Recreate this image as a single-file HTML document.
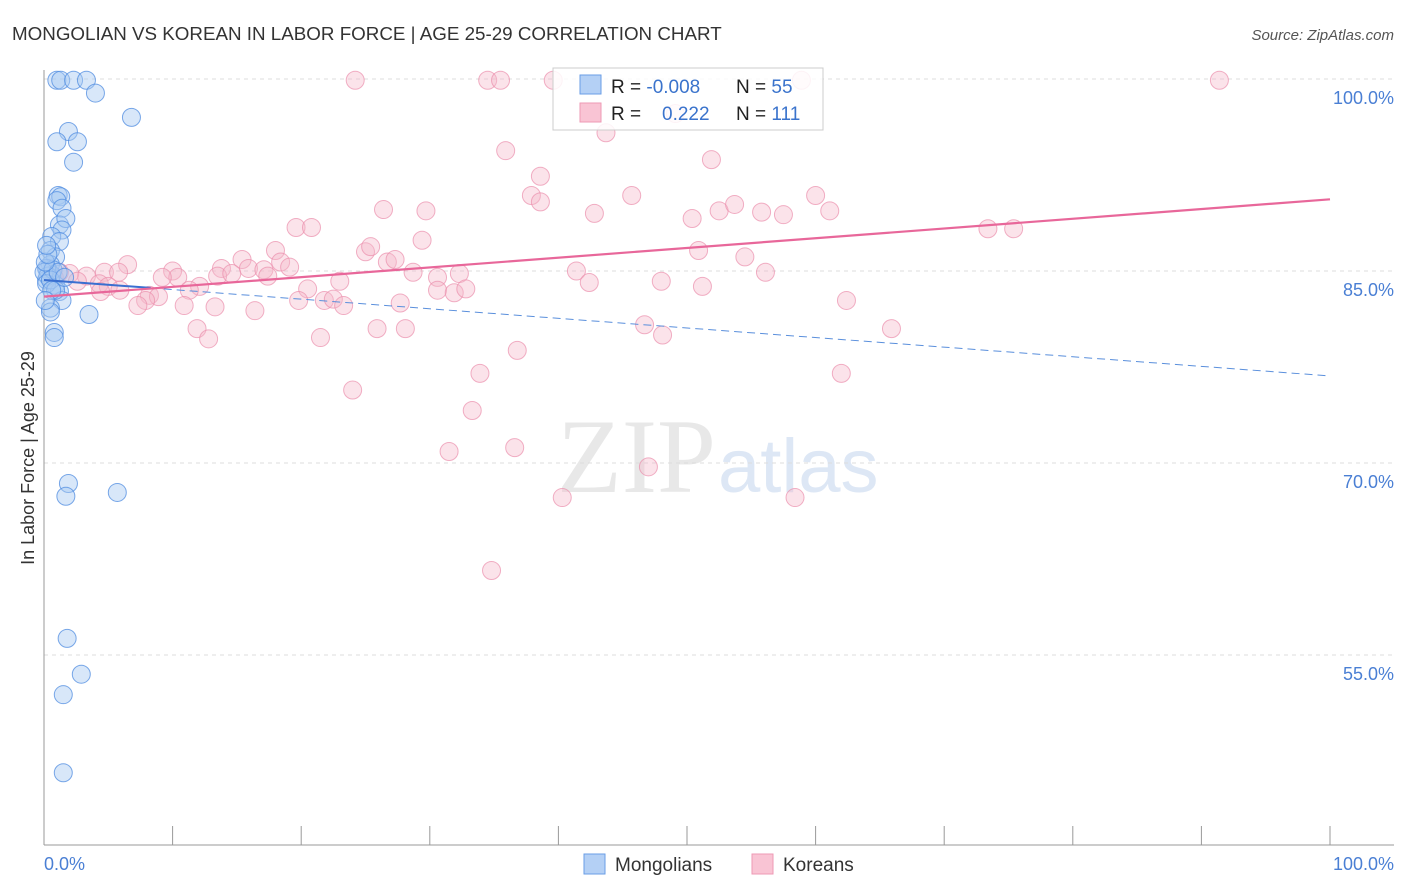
<!DOCTYPE html>
<html><head><meta charset="utf-8"><style>
body{margin:0;background:#fff;font-family:"Liberation Sans",sans-serif;}
svg{display:block}
</style></head><body>
<svg id="chart" width="1406" height="892">
<text x="12" y="40" font-size="18.8" fill="#333">MONGOLIAN VS KOREAN IN LABOR FORCE | AGE 25-29 CORRELATION CHART</text>
<text x="1394" y="40" font-size="15" fill="#555" text-anchor="end" font-style="italic">Source: ZipAtlas.com</text>
<text x="716" y="492" font-size="106" fill="#e8e8e8" text-anchor="end" font-family="Liberation Serif,serif">ZIP</text>
<text x="718" y="492" font-size="76" fill="#dde7f5">atlas</text>
<g id="grid"></g><g id="axes"></g><g id="pts"></g><g id="trend"></g>
<text transform="translate(34,458) rotate(-90)" font-size="18" fill="#333" text-anchor="middle">In Labor Force | Age 25-29</text>
<text x="44" y="870" font-size="18" fill="#4a7fd4">0.0%</text>
<text x="1394" y="870" font-size="18" fill="#4a7fd4" text-anchor="end">100.0%</text>
<g>
<rect x="553" y="68" width="270" height="62" fill="#fff" fill-opacity="0.85" stroke="#ccc"/>
<rect x="580" y="75" width="21" height="19" fill="#b4d0f5" stroke="#6a9ee6"/>
<rect x="580" y="103" width="21" height="19" fill="#f9c4d4" stroke="#ee9ab4"/>
<text x="611" y="93" font-size="19" fill="#222">R = <tspan fill="#3a73cc">-0.008</tspan></text>
<text x="736" y="93" font-size="19" fill="#222">N = <tspan fill="#3a73cc">55</tspan></text>
<text x="611" y="120" font-size="19" fill="#222">R = </text>
<text x="662" y="120" font-size="19" fill="#3a73cc">0.222</text>
<text x="736" y="120" font-size="19" fill="#222">N = <tspan fill="#3a73cc">111</tspan></text>
</g>
<g>
<rect x="584" y="854" width="21" height="20" fill="#b4d0f5" stroke="#6a9ee6"/>
<text x="615" y="871" font-size="19" fill="#333">Mongolians</text>
<rect x="752" y="854" width="21" height="20" fill="#f9c4d4" stroke="#ee9ab4"/>
<text x="783" y="871" font-size="19" fill="#333">Koreans</text>
</g>
</svg>
<script>
const yTicks=[100,85,70,55];
const yTickLabels=["100.0%","85.0%","70.0%","55.0%"];
const mongolX=[1.0,1.3,2.3,3.3,4.0,6.8,1.9,1.0,2.6,2.3,1.1,1.3,1.0,1.4,1.2,1.7,1.4,0.6,1.2,0.5,0.9,0.5,0.3,0.6,0.2,0.9,1.2,1.4,0.5,0.5,0.8,0.8,3.5,1.9,1.7,5.7,1.8,2.9,1.5,1.5,0.2,0.3,0.0,0.7,0.2,0.5,1.1,0.1,0.9,0.3,0.2,0.6,0.1,1.6];
const mongolY=[99.9,99.9,99.9,99.9,98.9,97.0,95.9,95.1,95.1,93.5,90.9,90.8,90.5,89.9,88.6,89.1,88.2,87.7,87.3,86.6,86.1,85.5,85.1,84.7,84.3,83.9,83.4,82.7,82.1,81.8,80.2,79.8,81.6,68.4,67.4,67.7,56.3,53.5,51.9,45.8,85.2,84.6,84.9,85.1,84.0,84.3,84.9,85.7,83.5,86.3,87.0,83.5,82.7,84.5];
const koreanX=[24.2,34.5,35.5,39.6,49.1,58.9,91.4,43.7,35.9,51.9,38.6,37.9,38.6,45.7,60.0,26.4,29.7,42.8,50.4,52.5,53.7,55.8,57.5,61.1,19.6,20.8,29.4,18.0,25.0,25.4,50.9,73.4,75.4,15.4,18.4,19.1,26.7,27.3,54.5,6.5,10.0,13.8,15.9,17.1,13.5,14.6,17.4,4.7,5.8,28.7,30.6,32.3,41.4,56.1,10.4,9.2,3.3,2.0,1.2,4.3,5.0,42.4,48.0,12.1,11.3,20.5,23.0,30.6,31.9,32.8,4.4,8.2,8.9,7.9,7.3,10.9,13.3,16.4,19.8,21.8,22.5,23.3,27.7,62.4,11.9,12.8,21.5,25.9,28.1,46.7,48.1,65.9,36.8,33.9,62.0,24.0,33.3,31.5,36.6,47.0,40.3,58.4,34.8,51.2,5.9,0.8,2.6];
const koreanY=[99.9,99.9,99.9,99.9,97.3,99.9,99.9,95.8,94.4,93.7,92.4,90.9,90.4,90.9,90.9,89.8,89.7,89.5,89.1,89.7,90.2,89.6,89.4,89.7,88.4,88.4,87.4,86.6,86.5,86.9,86.6,88.3,88.3,85.9,85.7,85.3,85.7,85.9,86.1,85.5,85.0,85.2,85.2,85.1,84.6,84.8,84.6,84.9,84.9,84.9,84.5,84.8,85.0,84.9,84.5,84.5,84.6,84.8,84.9,84.0,83.8,84.1,84.2,83.8,83.5,83.6,84.2,83.5,83.3,83.6,83.4,83.1,83.0,82.7,82.3,82.3,82.2,81.9,82.7,82.7,82.8,82.3,82.5,82.7,80.5,79.7,79.8,80.5,80.5,80.8,80.0,80.5,78.8,77.0,77.0,75.7,74.1,70.9,71.2,69.7,67.3,67.3,61.6,83.8,83.5,84.5,84.2];
const mongolTrend=[84.3,76.8], koreanTrend=[83.0,90.6];
const X=v=>44+v*12.86, Y=v=>79+(100-v)*12.8;
const NS="http://www.w3.org/2000/svg";
function mk(tag,attrs,parent){const e=document.createElementNS(NS,tag);for(const k in attrs)e.setAttribute(k,attrs[k]);document.getElementById(parent).appendChild(e);return e;}
yTicks.forEach((t,i)=>{
 const l=mk('line',{x1:44,x2:1394,y1:Y(t),y2:Y(t),stroke:'#ddd','stroke-dasharray':'4,4'},'grid');
 
 
 const tx=mk('text',{x:1394,y:Y(t)+25,'font-size':18,fill:'#4a7fd4','text-anchor':'end'},'grid');
 tx.textContent=yTickLabels[i];
 
 
});
const ax=mk('line',{x1:44,x2:44,y1:70,y2:845,stroke:'#999'},'axes');


const bx=mk('line',{x1:44,x2:1394,y1:845,y2:845,stroke:'#999'},'axes');


for(let k=1;k<=10;k++){const t=mk('line',{x1:X(k*10),x2:X(k*10),y1:826,y2:845,stroke:'#999'},'axes');
 
 }
koreanX.forEach((v,i)=>{const c=mk('circle',{cx:X(v),cy:Y(koreanY[i]),r:9,fill:'#f6b8cb','fill-opacity':0.4,stroke:'#eb8fad','stroke-opacity':0.7},'pts');
 
 });
mongolX.forEach((v,i)=>{const c=mk('circle',{cx:X(v),cy:Y(mongolY[i]),r:9,fill:'#a9c9f2','fill-opacity':0.45,stroke:'#4d8be0','stroke-opacity':0.75},'pts');
 
 });
const mAt=x=>mongolTrend[0]+(mongolTrend[1]-mongolTrend[0])*x/100;
const t1=mk('line',{x1:X(0),y1:Y(mAt(0)),x2:X(8.3),y2:Y(mAt(8.3)),stroke:'#3a6fd0','stroke-width':2},'trend');


const t2=mk('line',{x1:X(8.3),y1:Y(mAt(8.3)),x2:X(100),y2:Y(mAt(100)),stroke:'#5a8fdc','stroke-width':1,'stroke-dasharray':'8,5'},'trend');


const t3=mk('line',{x1:X(0),y1:Y(koreanTrend[0]),x2:X(100),y2:Y(koreanTrend[1]),stroke:'#e8679a','stroke-width':2.2},'trend');


</script>
</body></html>
